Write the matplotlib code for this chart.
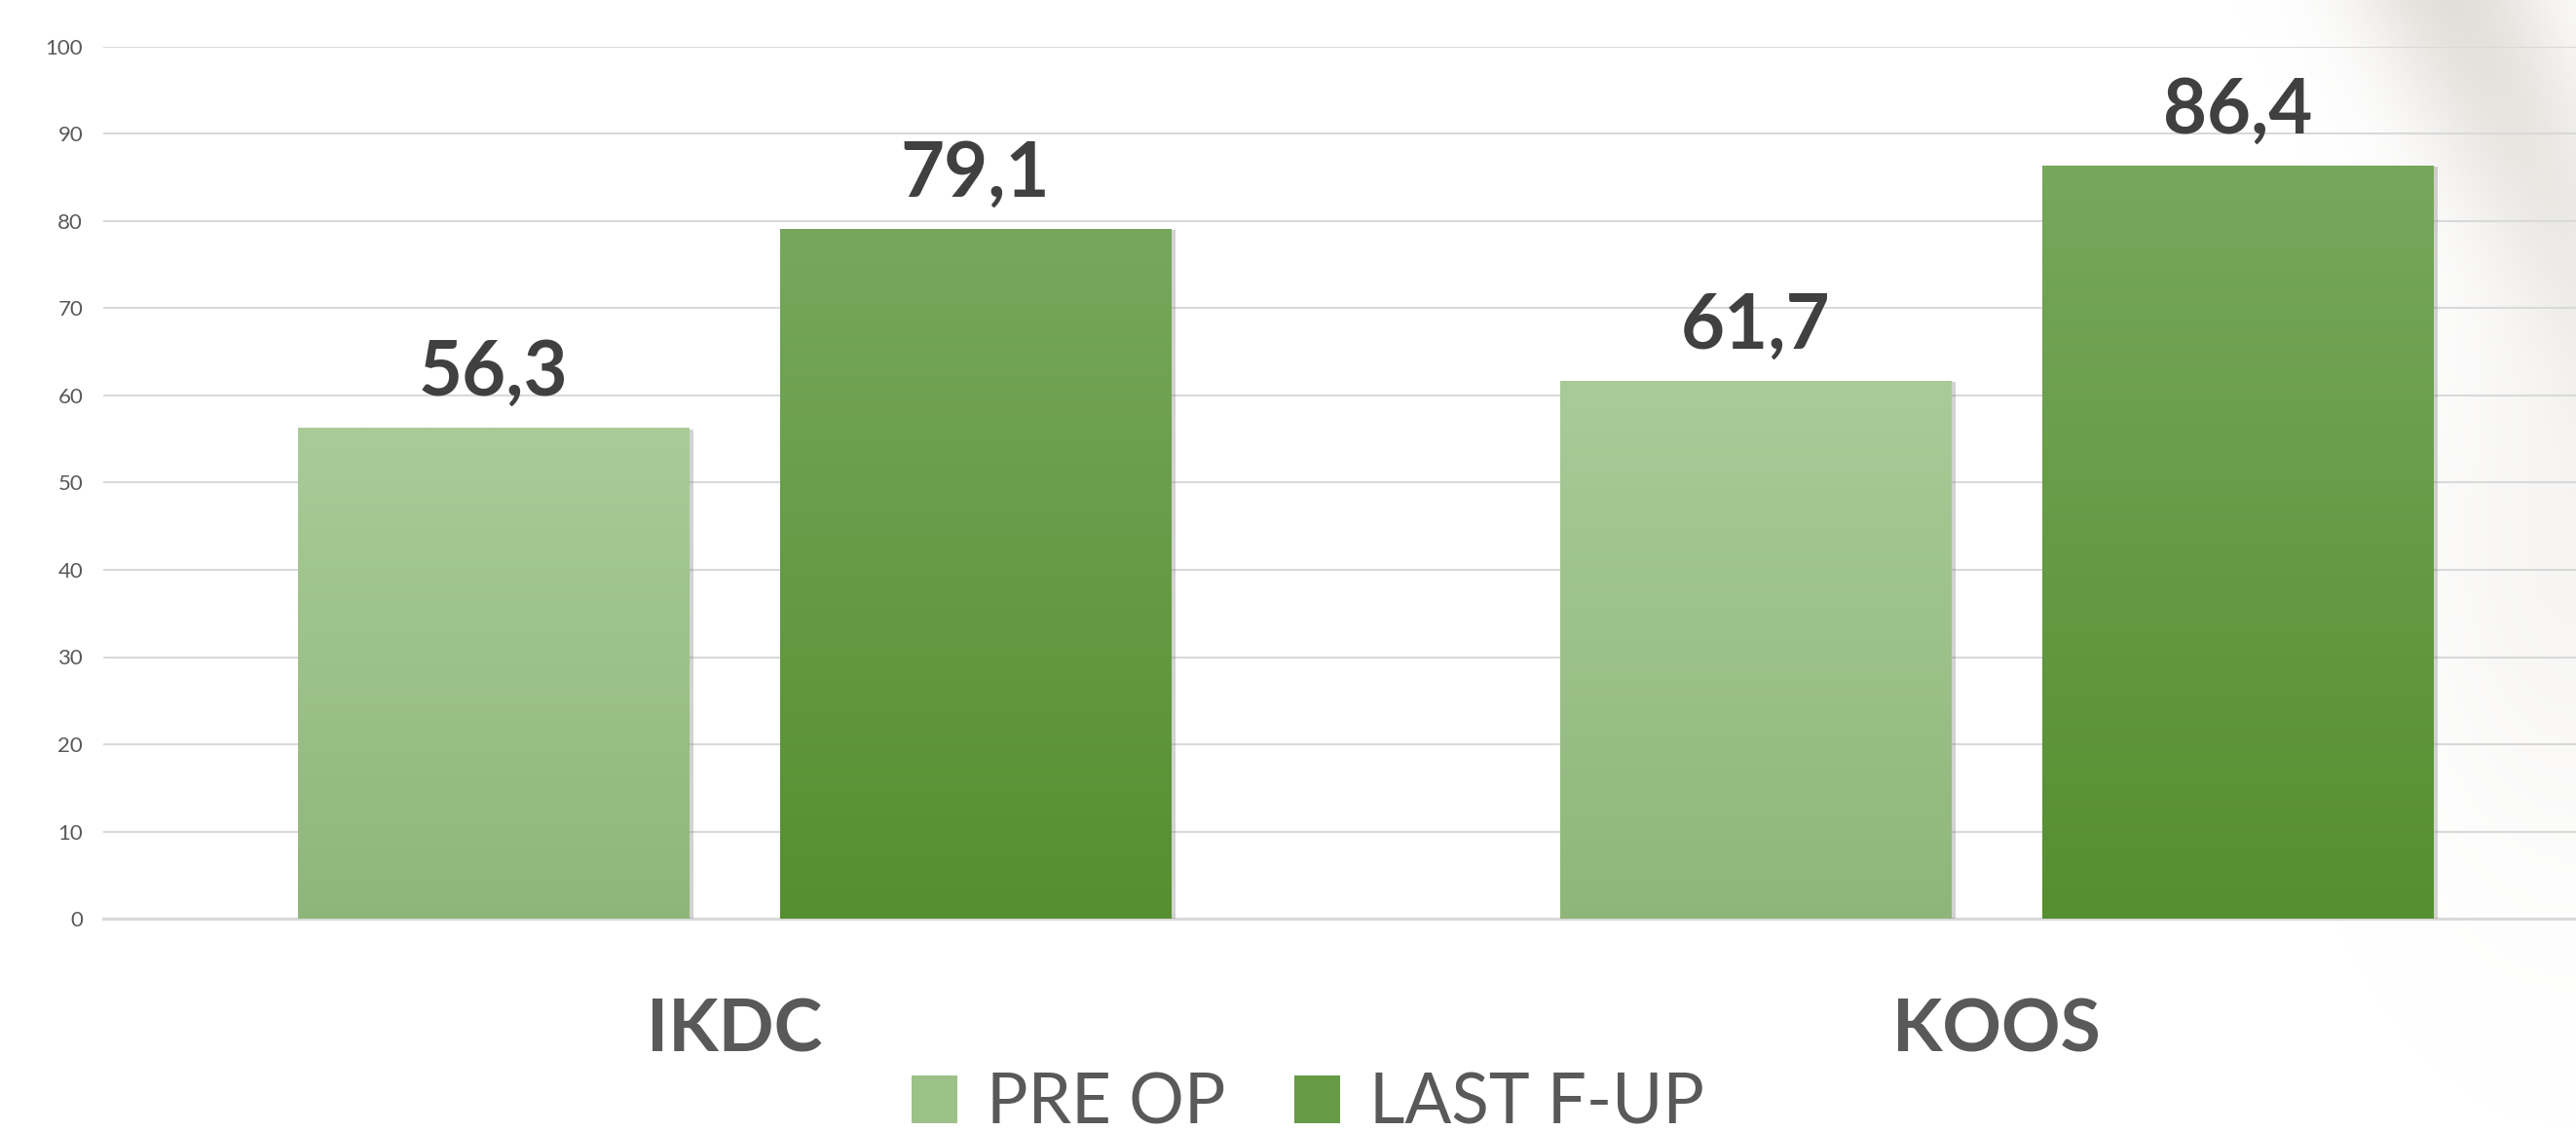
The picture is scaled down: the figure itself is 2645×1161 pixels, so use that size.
import numpy as np
import matplotlib as mpl
import matplotlib.pyplot as plt
import matplotlib.patheffects as pe
from matplotlib.patches import Patch

mpl.use("Agg")
plt.rcParams["font.family"] = ["Lato", "DejaVu Sans"]

# data
categories = ["IKDC", "KOOS"]
series_names = ["PRE OP", "LAST F-UP"]
pre_op = [56.3, 61.7]
last_fup = [79.1, 86.4]
y_ticks = [0, 10, 20, 30, 40, 50, 60, 70, 80, 90, 100]

# styles: (top colour, bottom colour) per series
grad_colors = [("#A9CB98", "#8FB67A"), ("#77A75C", "#558F2F")]
text_dark = "#404040"
text_grey = "#595959"
grid_grey = "#D9D9D9"

W, H, DPI = 2645, 1161, 100
fig = plt.figure(figsize=(W / DPI, H / DPI), dpi=DPI)
fig.patch.set_facecolor("white")

# faint photo-like haze in the top right corner (background decoration)
bg = fig.add_axes([0, 0, 1, 1], zorder=0)
bg.set_axis_off()
gx, gy = np.meshgrid(np.linspace(0, W, 530), np.linspace(0, H, 233))
# distance from a diagonal line running from (2520,0) down to (2690,360)
dx, dy = 170.0, 360.0
nrm = np.hypot(dx, dy)
dist = ((gx - 2520) * dy - gy * dx) / nrm
band = np.exp(-(dist / 90.0) ** 2) * np.clip(1 - gy / 560.0, 0, 1)
band += 0.3 * np.exp(-(((gx - 2645) / 160.0) ** 2 + ((gy - 560) / 300.0) ** 2))
rgba = np.zeros(gx.shape + (4,))
rgba[..., 0] = 0.84
rgba[..., 1] = 0.82
rgba[..., 2] = 0.79
rgba[..., 3] = np.clip(band, 0, 1) * 0.7
bg.imshow(rgba, extent=(0, W, H, 0), aspect="auto", origin="upper")
bg.set_xlim(0, W)
bg.set_ylim(H, 0)

ax = fig.add_axes([106 / W, 218 / H, 1 - 106 / W, 895 / H], zorder=1)
ax.patch.set_alpha(0)

x = np.arange(len(categories))
offset = 0.191
width = 0.31

for i, vals in enumerate([pre_op, last_fup]):
    xs = x + (i - 0.5) * 2 * offset
    bars = ax.bar(xs, vals, width, color=grad_colors[i][1], zorder=3,
                  path_effects=[pe.SimplePatchShadow(offset=(3, -1), shadow_rgbFace="#808080", alpha=0.35),
                                pe.Normal()])
    top = mpl.colors.to_rgb(grad_colors[i][0])
    bot = mpl.colors.to_rgb(grad_colors[i][1])
    t = np.linspace(0, 1, 256)[:, None, None]
    grad = (1 - t) * np.array(top) + t * np.array(bot)
    for b, v in zip(bars, vals):
        x0 = b.get_x()
        im = ax.imshow(grad, extent=(x0, x0 + b.get_width(), 0, b.get_height()),
                       aspect="auto", origin="upper", zorder=4)
        im.set_clip_path(b)
        ax.annotate(f"{v:.1f}".replace(".", ","), (b.get_x() + b.get_width() / 2, v),
                    xytext=(0, 24), textcoords="offset points", ha="center", va="baseline",
                    fontsize=56, fontweight="bold", color=text_dark, zorder=5)

ax.set_xlim(-0.5, 1.459)
ax.set_ylim(0, 100)
ax.set_yticks(y_ticks)
ax.set_xticks([])
ax.tick_params(axis="y", length=0, pad=15, labelsize=16, labelcolor=text_grey)
ax.yaxis.grid(True, color=grid_grey, linewidth=1.5, zorder=0)
ax.set_axisbelow(True)
for side in ["left", "right", "top"]:
    ax.spines[side].set_visible(False)
ax.spines["bottom"].set_color(grid_grey)
ax.spines["bottom"].set_linewidth(2.2)

for xi, name in zip(x, categories):
    ax.text(xi, -136 / 895, name, transform=ax.get_xaxis_transform(), ha="center",
            va="baseline", fontsize=54, fontweight="bold", color=text_grey)

handles = [Patch(facecolor=np.mean([mpl.colors.to_rgb(c) for c in gc], axis=0), edgecolor="none")
           for gc in grad_colors]
leg = fig.legend(handles, series_names, loc="lower center", bbox_to_anchor=(1343 / W, -0.004),
                 ncol=2, frameon=False, fontsize=51, handlelength=0.66, handleheight=0.68,
                 handletextpad=0.42, columnspacing=1.0, borderpad=0, borderaxespad=0)
for txt in leg.get_texts():
    txt.set_color(text_grey)

fig.savefig("out.png", dpi=DPI)
